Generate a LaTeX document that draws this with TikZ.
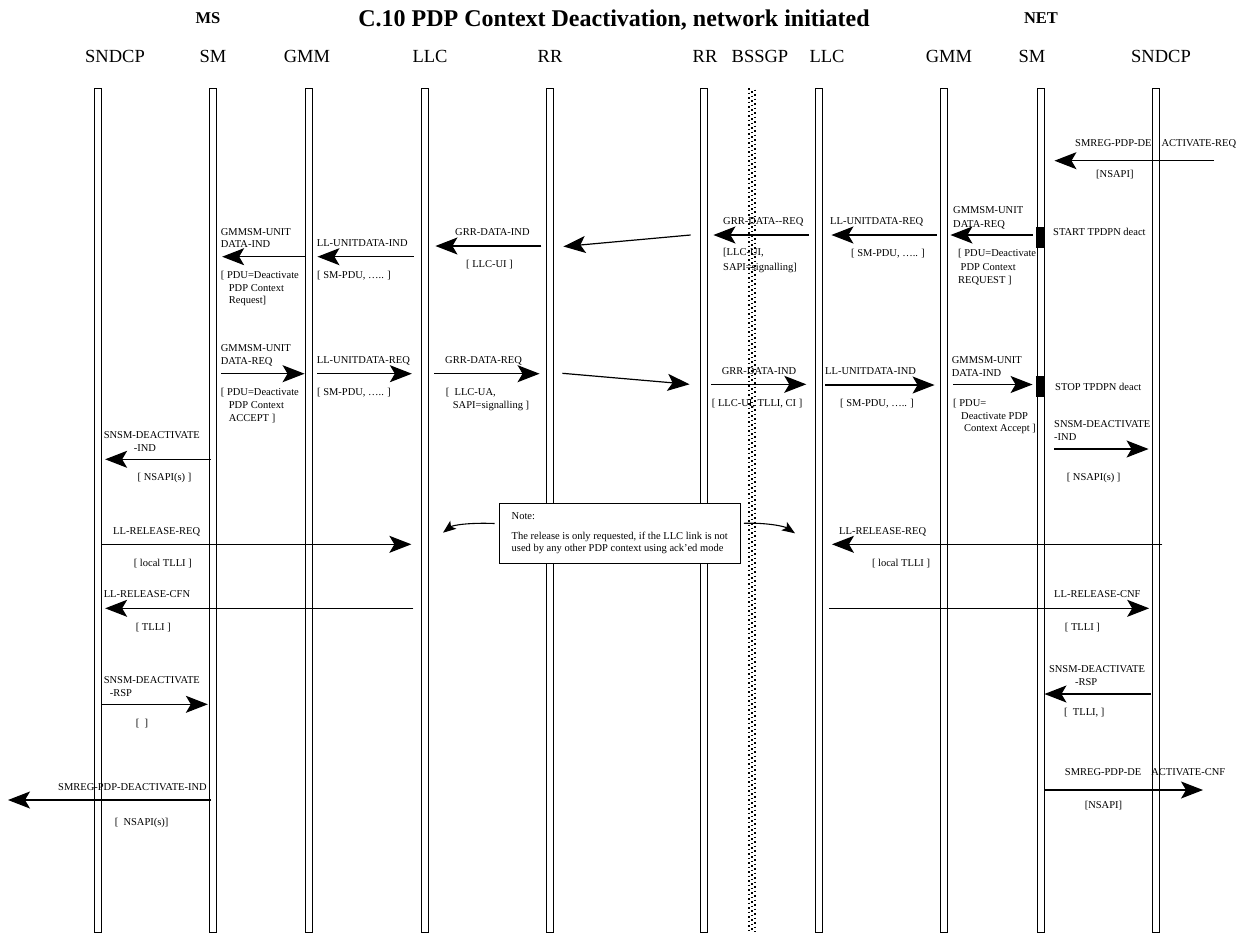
\documentclass[tikz,border=0pt]{standalone}
\usepackage{fontspec}
\setmainfont{Liberation Serif}
\usetikzlibrary{arrows.meta,calc}
\newcommand\lp[3]{($(#1 |- 0,#2)+(#3,0)$)}
\begin{document}
\begin{tikzpicture}[x=1pt,y=-1pt,
  lifeline/.style={draw, line width=0.9pt, minimum width=7pt, minimum height=844pt, inner sep=0pt},
  lbl/.style={inner sep=0pt, font=\fontsize{18.5}{20}\selectfont},
  msg/.style={line width=1.2pt, -{Stealth[length=22pt,width=17pt,inset=5pt]}},
  curvy/.style={line width=1.1pt, -{Stealth[length=13pt,width=10pt,inset=3pt]}},
  txt/.style={anchor=base west, inner sep=0pt, font=\fontsize{10.5}{13}\selectfont},
  mtxt/.style={anchor=north west, inner sep=0pt, align=left, font=\fontsize{10.5}{13}\selectfont},
  timer/.style={fill=black, draw=black, minimum width=8pt, minimum height=20pt, inner sep=0pt},
  dots/.style={line width=1.5pt, dash pattern=on 1.5pt off 3pt}]
\useasboundingbox (0,0) rectangle (1239,938);

% headings
\node[font=\bfseries\fontsize{24}{26}\selectfont] (title) at (614,20) {C.10 PDP Context Deactivation, network initiated};
\node[font=\bfseries\fontsize{16.5}{18}\selectfont] (ms) at (208,18) {MS};
\node[font=\bfseries\fontsize{16.5}{18}\selectfont] (net) at (1041,18) {NET};

% lifeline labels
\node[lbl] (lSNDCPa) at (115,56) {SNDCP};
\node[lbl] (lSMa) at (213,56) {SM};
\node[lbl] (lGMMa) at (307,56) {GMM};
\node[lbl] (lLLCa) at (430,56) {LLC};
\node[lbl] (lRRa) at (550,56) {RR};
\node[lbl] (lRRb) at (705,56) {RR};
\node[lbl] (lBSSGP) at (760,56) {BSSGP};
\node[lbl] (lLLCb) at (827,56) {LLC};
\node[lbl] (lGMMb) at (949,56) {GMM};
\node[lbl] (lSMb) at (1032,56) {SM};
\node[lbl] (lSNDCPb) at (1161,56) {SNDCP};

% lifelines
\node[lifeline] (SNDCPa) at (97.5,510) {};
\node[lifeline] (SMa) at (212.5,510) {};
\node[lifeline] (GMMa) at (308.5,510) {};
\node[lifeline] (LLCa) at (424.5,510) {};
\node[lifeline] (RRa) at (549.5,510) {};
\node[lifeline] (RRb) at (703.5,510) {};
\node[lifeline] (LLCb) at (819,510) {};
\node[lifeline] (GMMb) at (944,510) {};
\node[lifeline] (SMb) at (1040.5,510) {};
\node[lifeline] (SNDCPb) at (1155.5,510) {};
\coordinate (bt) at (752,88);
\coordinate (bb) at (752,932);
\draw[dots] ($(bt)+(-3,0)$) -- ($(bb)+(-3,0)$);
\draw[dots, dash phase=1.5pt] (bt) -- (bb);
\draw[dots, dash phase=3pt] ($(bt)+(3,0)$) -- ($(bb)+(3,0)$);

% timers
\node[timer] (tstart) at (1040.5,237) {};
\node[timer] (tstop) at (1040.5,386.5) {};

% free ends
\coordinate (reqsrc) at (1214,160.7);
\coordinate (indend) at (8,800);
\coordinate (cnfend) at (1203,790);

% ---- messages ----
\draw[msg] (reqsrc) -- \lp{SMb.east}{160.7}{10};
\node[txt] (t1) at (1075,146.2) {SMREG-PDP-DE\hspace{10pt}ACTIVATE-REQ};
\node[txt] (t2) at (1096,177.5) {[NSAPI]};
\node[txt] (t3) at (1053,235.2) {START TPDPN deact};

\draw[msg] \lp{SMb.west}{235}{-4} -- \lp{GMMb.east}{235}{2.5};
\node[mtxt, font=\fontsize{10.5}{14}\selectfont] (t4) at (953,206.4) {GMMSM-UNIT\\DATA-REQ};
\node[mtxt, font=\fontsize{10.5}{13.5}\selectfont] (t5) at (958,249.1) {[ PDU=Deactivate\\\hspace*{2.5pt}PDP Context\\REQUEST ]};

\draw[msg] \lp{GMMb.west}{235}{-3.5} -- \lp{LLCb.east}{235}{8.5};
\node[txt] (t6) at (830,224.2) {LL-UNITDATA-REQ};
\node[txt] (t7) at (851,256.2) {[ SM-PDU, ….. ]};

\draw[msg] \lp{LLCb.west}{235}{-6.5} -- \lp{RRb.east}{235}{6};
\node[txt] (t8) at (723,224.2) {GRR-DATA-{}-REQ};
\node[mtxt, font=\fontsize{10.5}{15}\selectfont] (t9) at (723,248.1) {[LLC-UI,\\SAPI=signalling]};

\draw[msg] \lp{RRb.west}{235}{-9} -- \lp{RRa.east}{246.5}{10};

\draw[msg] \lp{RRa.west}{246}{-4.3} -- \lp{LLCa.east}{246}{7};
\node[txt] (t10) at (455,235.2) {GRR-DATA-IND};
\node[txt] (t11) at (466,267.5) {[ LLC-UI ]};

\draw[msg] \lp{LLCa.west}{256.7}{-7} -- \lp{GMMa.east}{256.7}{5};
\node[txt] (t12) at (316.7,246.2) {LL-UNITDATA-IND};
\node[txt] (t13) at (317,278.5) {[ SM-PDU, ….. ]};

\draw[msg] \lp{GMMa.west}{256.7}{0} -- \lp{SMa.east}{256.7}{5.7};
\node[mtxt, font=\fontsize{10.5}{12.5}\selectfont] (t14) at (220.7,228.1) {GMMSM-UNIT\\DATA-IND};
\node[mtxt, font=\fontsize{10.5}{12.5}\selectfont] (t15) at (220.7,271.4) {[ PDU=Deactivate\\\hspace*{8pt}PDP Context\\\hspace*{8pt}Request]};

% second group
\draw[msg] \lp{SMa.east}{373.7}{4.7} -- \lp{GMMa.west}{373.7}{0};
\node[mtxt, font=\fontsize{10.5}{12.7}\selectfont] (t16) at (220.7,344.7) {GMMSM-UNIT\\DATA-REQ};
\node[mtxt, font=\fontsize{10.5}{12.8}\selectfont] (t17) at (220.7,388.4) {[ PDU=Deactivate\\\hspace*{8pt}PDP Context\\\hspace*{8pt}ACCEPT ]};

\draw[msg] \lp{GMMa.east}{373.7}{4.7} -- \lp{LLCa.west}{373.7}{-8.7};
\node[txt] (t18) at (316.7,363.5) {LL-UNITDATA-REQ};
\node[txt] (t19) at (317,395.5) {[ SM-PDU, ….. ]};

\draw[msg] \lp{LLCa.east}{373.7}{6} -- \lp{RRa.west}{373.7}{-6};
\node[txt] (t20) at (445,363.5) {GRR-DATA-REQ};
\node[mtxt] (t21) at (445.7,388.4) {[\ \ LLC-UA,\\\hspace*{7pt}SAPI=signalling ]};

\draw[msg] \lp{RRa.east}{373.3}{9} -- \lp{RRb.west}{384.3}{-10};

\draw[msg] \lp{RRb.east}{384.3}{4} -- \lp{LLCb.west}{384.3}{-8.8};
\node[txt] (t22) at (721.7,374.5) {GRR-DATA-IND};
\node[txt] (t23) at (711.7,406.2) {[ LLC-UI, TLLI, CI ]};

\draw[msg] \lp{LLCb.east}{385}{2.5} -- \lp{GMMb.west}{385}{-5.5};
\node[txt] (t24) at (825,374.5) {LL-UNITDATA-IND};
\node[txt] (t25) at (840,406.2) {[ SM-PDU, ….. ]};

\draw[msg] \lp{GMMb.east}{384.5}{5.5} -- \lp{SMb.west}{384.5}{-4};
\node[mtxt] (t26) at (951.7,356.4) {GMMSM-UNIT\\DATA-IND};
\node[mtxt, font=\fontsize{10.5}{12.5}\selectfont] (t27) at (953,399.1) {[ PDU=\\\hspace*{8pt}Deactivate PDP\\\hspace*{11pt}Context Accept ]};
\node[txt] (t28) at (1055,390.2) {STOP TPDPN deact};

\draw[msg] \lp{SMb.east}{449}{9.6} -- \lp{SNDCPb.west}{449}{-3};
\node[mtxt, font=\fontsize{10.5}{12.7}\selectfont] (t29) at (1054,420.4) {SNSM-DEACTIVATE\\-IND};
\node[txt] (t30) at (1066.6,480.2) {[ NSAPI(s) ]};

\draw[msg] \lp{SMa.west}{459.3}{2.5} -- \lp{SNDCPa.east}{459.3}{3.7};
\node[mtxt, font=\fontsize{10.5}{12.7}\selectfont] (t31) at (103.6,431.4) {SNSM-DEACTIVATE\\\hspace*{30pt}-IND};
\node[txt] (t32) at (137.5,480.5) {[ NSAPI(s) ]};

% release
\draw[msg] \lp{SNDCPa.east}{544.3}{1} -- \lp{LLCa.west}{544.3}{-9.2};
\node[txt] (t33) at (113,534.2) {LL-RELEASE-REQ};
\node[txt] (t34) at (133.6,566.2) {[ local TLLI ]};

\node[draw, fill=white, line width=0.9pt, minimum width=241.5pt, minimum height=60pt, inner xsep=8pt, align=left, font=\fontsize{10.5}{11.5}\selectfont] (note) at (619.75,533) {Note:\\[8.5pt]The release is only requested, if the LLC link is not\\used by any other PDP context using ack'ed mode};
\coordinate (nl) at (443,532.7);
\coordinate (nr) at (795,533.3);
\draw[curvy] ($(note.west |- 0,523.5)+(-4,0)$) .. controls (470,522.5) and (453,525) .. (nl);
\draw[curvy] ($(note.east |- 0,523.3)+(3,0)$) .. controls (765,522.5) and (784,526) .. (nr);

\draw[msg] \lp{SNDCPb.east}{544.3}{3} -- \lp{LLCb.east}{544.3}{9};
\node[txt] (t35) at (839,534.2) {LL-RELEASE-REQ};
\node[txt] (t36) at (871.8,566.2) {[ local TLLI ]};

\draw[msg] \lp{LLCa.west}{608.3}{-7.2} -- \lp{SNDCPa.east}{608.3}{3.7};
\node[txt] (t37) at (103.6,597.8) {LL-RELEASE-CFN};
\node[txt] (t38) at (135.6,630.2) {[ TLLI ]};

\draw[msg] \lp{LLCb.east}{608.3}{6.2} -- \lp{SNDCPb.west}{608.3}{-2.4};
\node[txt] (t39) at (1054,597.8) {LL-RELEASE-CNF};
\node[txt] (t40) at (1064.7,630.8) {[ TLLI ]};

% deactivate rsp
\draw[msg] \lp{SNDCPa.east}{704.3}{1} -- \lp{SMa.west}{704.3}{-0.7};
\node[mtxt, font=\fontsize{10.5}{12.7}\selectfont] (t41) at (103.6,676.4) {SNSM-DEACTIVATE\\\hspace*{6pt}-RSP};
\node[txt] (t42) at (135.6,726.8) {[\ \ ]};

\draw[msg] \lp{SNDCPb.west}{694}{-0.4} -- \lp{SMb.east}{694}{0};
\node[mtxt, font=\fontsize{10.5}{12.7}\selectfont] (t43) at (1048.8,665.4) {SNSM-DEACTIVATE\\\hspace*{26pt}-RSP};
\node[txt] (t44) at (1064,715.8) {[\ \ TLLI, ]};

% smreg
\draw[msg] \lp{SMa.west}{800}{2.5} -- (indend);
\node[txt] (t45) at (58,790.2) {SMREG-PDP-DEACTIVATE-IND};
\node[txt] (t46) at (114.6,825.5) {[\ \ NSAPI(s)]};

\draw[msg] \lp{SMb.east}{790}{-0.3} -- (cnfend);
\node[txt] (t47) at (1064.7,775.2) {SMREG-PDP-DE\hspace{10pt}ACTIVATE-CNF};
\node[txt] (t48) at (1084.6,808.5) {[NSAPI]};
\end{tikzpicture}
\end{document}
